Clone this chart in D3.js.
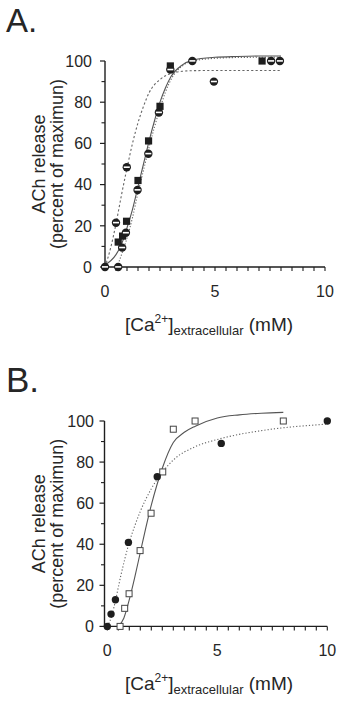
<!DOCTYPE html>
<html><head><meta charset="utf-8">
<script src="https://cdn.jsdelivr.net/npm/d3@7"></script>
<style>body{margin:0;background:#fff}svg{display:block}</style>
</head><body>
<svg id="c" width="340" height="701"></svg>
<script>
// ---- Panel A data ----
const aSquares = [[0.6,12.1],[0.8,15],[0.98,22.2],[1.5,42],[1.98,61.2],[2.5,78],[2.97,97.6],[7.14,100]];
const aCircles1 = [[0.6,0],[0.78,9.4],[0.95,16.6],[1.48,37.4],[1.97,55],[2.45,75],[2.97,95.8],[3.97,100],[7.55,100]];
const aCircles2 = [[0,0],[0.5,21.5],[0.99,48.4],[4.95,90],[7.95,100]];
const aSolidFit = [[0,1],[0.5,6],[0.75,11],[1,19],[1.25,28],[1.5,39],[1.75,50],[2,61],[2.25,71],[2.5,80],[2.75,87],[3,92.5],[3.5,98],[4,100.5],[5,101.8],[6,102.2],[7,102.4],[8,102.4]];
const aDottedFit = [[0.55,0],[0.75,6],[1,14],[1.25,24],[1.5,36],[1.75,47],[2,58],[2.25,68],[2.5,77],[2.75,85],[3,91],[3.5,97.5],[4,100],[5,101.3],[6,101.7],[7,101.8],[8,101.8]];
const aDashedFit = [[0,0],[0.25,9],[0.5,21],[0.75,35],[1,48],[1.25,60],[1.5,70],[1.75,78],[2,84.5],[2.5,91],[3,94],[3.5,95],[4,95.3],[5,95.4],[8,95.4]];
// ---- Panel B data ----
const bFilled = [[0,0],[0.17,6],[0.37,13],[0.96,40.9],[2.27,72.9],[5.18,89.1],[10,100]];
const bOpen = [[0.58,0],[0.79,8.8],[0.99,15.9],[1.49,36.9],[1.99,55.1],[2.52,75.2],[3.0,96],[3.99,100],[8.0,100]];
const bSolidFit = [[0.5,0],[0.75,4],[1,13],[1.25,24],[1.5,36],[1.75,48],[2,59],[2.5,77],[3,89.5],[3.5,94.5],[4,97.5],[5,101.5],[6,103],[7,103.8],[8,104.2]];
const bDottedFit = [[0,0],[0.2,5],[0.4,14],[0.6,24],[0.8,33],[1,41],[1.25,49],[1.5,56],[2,67],[2.5,75],[3,81],[4,87.5],[5,91],[6,93.5],[7,95.3],[8,96.7],[9,97.7],[10,98.5]];
// ---- ticks ----
const yTickLabels = [0,20,40,60,80,100];
const yMinorTicks = [10,30,50,70,90];
const xTickLabels = [0,5,10];
const xMinorStep = 0.5;
const panelLabels = ["A.","B."];
const yTitle = ["ACh release","(percent of maximun)"];

const svg = d3.select("#c");
const FONT = "Liberation Sans, Arial, Helvetica, sans-serif";
const INK = "#1e1e1e";
const TXT = "#262626";

function panel(cfg){
  const g = svg.append("g");
  const x = d3.scaleLinear().domain([0,10]).range([cfg.x0,cfg.x1]);
  const y = d3.scaleLinear().domain([0,100]).range([cfg.yb,cfg.yt]);
  g.append("text").attr("x",6).attr("y",cfg.labelY).attr("font-family",FONT)
    .attr("font-size",cfg.labelSize).attr("fill",TXT).text(cfg.label);
  const ax = cfg.axisX;
  g.append("line").attr("x1",ax).attr("x2",ax).attr("y1",y(0)).attr("y2",y(100))
    .attr("stroke",INK).attr("stroke-width",1.4);
  yTickLabels.forEach(v=>{
    g.append("line").attr("x1",ax-5).attr("x2",ax).attr("y1",y(v)).attr("y2",y(v)).attr("stroke",INK).attr("stroke-width",1.2);
    g.append("text").attr("x",cfg.yLabX).attr("y",y(v)).attr("dy","0.36em").attr("text-anchor","end")
      .attr("font-family",FONT).attr("font-size",16).attr("fill",TXT).text(v);
  });
  yMinorTicks.forEach(v=>{
    g.append("line").attr("x1",ax-3.5).attr("x2",ax).attr("y1",y(v)).attr("y2",y(v)).attr("stroke",INK).attr("stroke-width",1.1);
  });
  g.append("line").attr("x1",ax).attr("x2",x(10)).attr("y1",y(0)).attr("y2",y(0))
    .attr("stroke",INK).attr("stroke-width",1.4);
  d3.range(0,10+1e-9,xMinorStep).forEach(v=>{
    g.append("line").attr("x1",x(v)).attr("x2",x(v)).attr("y1",y(0)).attr("y2",y(0)+4).attr("stroke",INK).attr("stroke-width",1.1);
  });
  xTickLabels.forEach(v=>{
    g.append("text").attr("x",x(v)).attr("y",y(0)+30).attr("text-anchor","middle")
      .attr("font-family",FONT).attr("font-size",16).attr("fill",TXT).text(v);
  });
  const xt = g.append("text").attr("x",209).attr("y",y(0)+64).attr("text-anchor","middle")
    .attr("font-family",FONT).attr("font-size",19).attr("fill",TXT);
  xt.append("tspan").text("[Ca");
  xt.append("tspan").attr("font-size",12).attr("dy",-8).text("2+");
  xt.append("tspan").attr("dy",8).text("]");
  xt.append("tspan").attr("font-size",13).attr("dy",4).text("extracellular");
  xt.append("tspan").attr("dy",-4).text(" (mM)");
  const ym = (y(0)+y(100))/2;
  [[cfg.yT1,yTitle[0]],[cfg.yT2,yTitle[1]]].forEach(([xx,t])=>{
    g.append("text").attr("transform",`translate(${xx},${ym}) rotate(-90)`).attr("text-anchor","middle")
      .attr("dy","0.36em").attr("font-family",FONT).attr("font-size",18).attr("fill",TXT).text(t);
  });
  return {g,x,y};
}

function drawLine(p, data, dash, color){
  const line = d3.line().x(d=>p.x(d[0])).y(d=>p.y(d[1])).curve(d3.curveMonotoneX);
  p.g.append("path").attr("d",line(data)).attr("fill","none").attr("stroke",color||"#555")
    .attr("stroke-width",1.1).attr("stroke-dasharray",dash||null);
}

// Panel A
const A = panel({label:panelLabels[0],labelY:32,labelSize:33,x0:105,x1:325,yb:267,yt:61,axisX:105,yLabX:92,yT1:39,yT2:57});
drawLine(A, aDashedFit, "2.2,2.2", "#666");
drawLine(A, aDottedFit, "1.2,1.8", "#666");
drawLine(A, aSolidFit, null, "#555");
aSquares.forEach(d=>{
  A.g.append("rect").attr("x",A.x(d[0])-3.6).attr("y",A.y(d[1])-3.6).attr("width",7.2).attr("height",7.2).attr("fill",INK);
});
[aCircles1,aCircles2].forEach(arr=>arr.forEach(d=>{
  const cx=A.x(d[0]), cy=A.y(d[1]);
  A.g.append("circle").attr("cx",cx).attr("cy",cy).attr("r",4.2).attr("fill",INK);
  A.g.append("rect").attr("x",cx-3).attr("y",cy-0.9).attr("width",6).attr("height",1.6).attr("fill","#fff");
}));

// Panel B
const B = panel({label:panelLabels[1],labelY:392,labelSize:35,x0:107.3,x1:327.3,yb:626.4,yt:421,axisX:104.5,yLabX:94,yT1:39,yT2:57});
drawLine(B, bDottedFit, "1.2,2", "#666");
drawLine(B, bSolidFit, null, "#555");
bOpen.forEach(d=>{
  B.g.append("rect").attr("x",B.x(d[0])-3).attr("y",B.y(d[1])-3).attr("width",6).attr("height",6)
    .attr("fill","#fff").attr("stroke","#444").attr("stroke-width",1);
});
bFilled.forEach(d=>{
  B.g.append("circle").attr("cx",B.x(d[0])).attr("cy",B.y(d[1])).attr("r",3.7).attr("fill",INK);
});
</script>
</body></html>
